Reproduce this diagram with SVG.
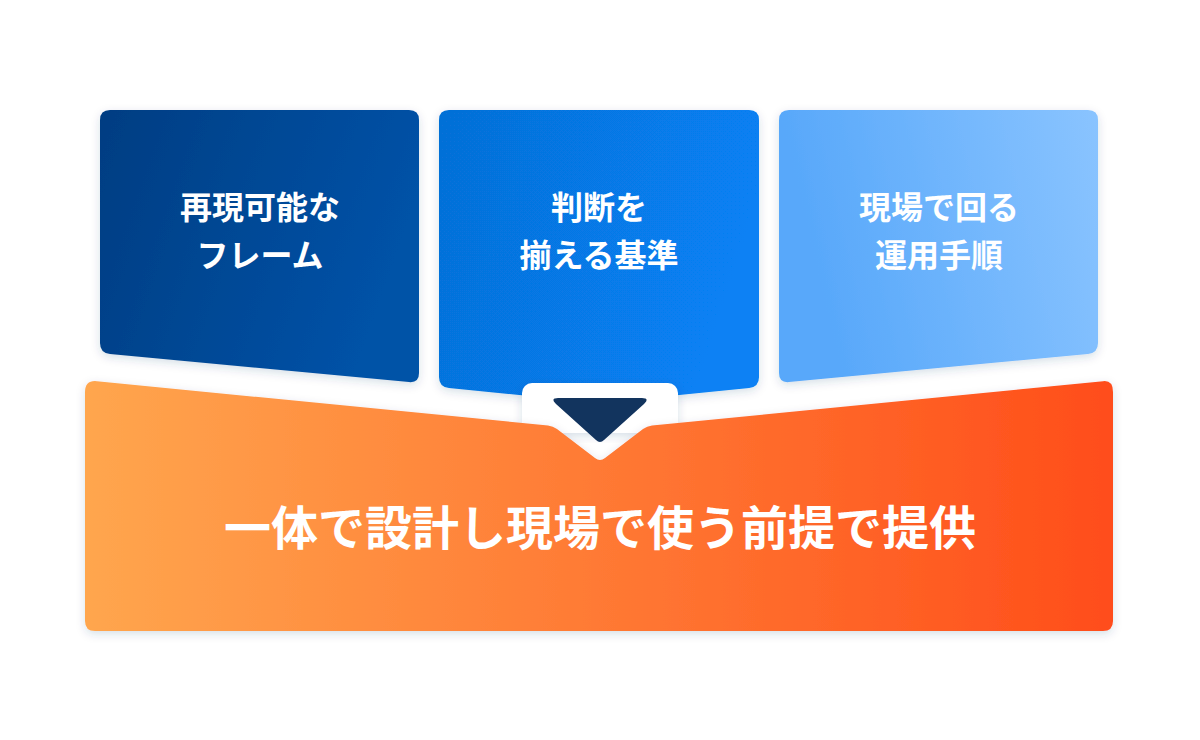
<svg xmlns="http://www.w3.org/2000/svg" width="1200" height="740" viewBox="0 0 1200 740">
  <defs>
    <linearGradient id="g1" x1="0" y1="0" x2="1" y2="0.3">
      <stop offset="0" stop-color="#033D82"/>
      <stop offset="1" stop-color="#0552A7"/>
    </linearGradient>
    <linearGradient id="g2" x1="0" y1="0" x2="1" y2="0.3">
      <stop offset="0" stop-color="#066FD6"/>
      <stop offset="1" stop-color="#0781F4"/>
    </linearGradient>
    <linearGradient id="g3" x1="0" y1="0" x2="1" y2="-0.2">
      <stop offset="0" stop-color="#58A8FA"/>
      <stop offset="1" stop-color="#8CC5FF"/>
    </linearGradient>
    <linearGradient id="g4" x1="0" y1="0" x2="1" y2="0">
      <stop offset="0" stop-color="#FFA64E"/>
      <stop offset="1" stop-color="#FF4D1A"/>
    </linearGradient>
    <filter id="sh" x="-10%" y="-10%" width="120%" height="130%">
      <feDropShadow dx="0" dy="3" stdDeviation="5" flood-color="#1E3A6E" flood-opacity="0.16"/>
    </filter>
  </defs>
  <style>
    .lbl { font-family: "Noto Sans CJK JP", "Noto Sans", sans-serif; font-weight: 700; fill: #FFFFFF; text-anchor: middle; }
    .top { font-size: 32px; }
    .main { font-size: 47px; }
  </style>
  <rect width="1200" height="740" fill="#FFFFFF"/>

  <g id="node-frame">
    <path d="M 100 120 Q 100 110 110 110 L 409 110 Q 419 110 419 120 L 419 373 Q 419 383 409 382.1 L 110 354 Q 100 353 100 343 Z" fill="url(#g1)" filter="url(#sh)"/>
    <text class="lbl top" x="260" y="219">再現可能な</text>
    <text class="lbl top" x="260" y="267">フレーム</text>
  </g>

  <g id="node-criteria">
    <path d="M 439 120 Q 439 110 449 110 L 749 110 Q 759 110 759 120 L 759 377 Q 759 387 749 388 L 599 403 L 449 388 Q 439 387 439 377 Z" fill="url(#g2)" filter="url(#sh)"/>
    <text class="lbl top" x="599" y="219">判断を</text>
    <text class="lbl top" x="599" y="267">揃える基準</text>
  </g>

  <g id="node-procedure">
    <path d="M 779 120 Q 779 110 789 110 L 1088 110 Q 1098 110 1098 120 L 1098 343 Q 1098 353 1088 354 L 789 382.1 Q 779 383 779 373 Z" fill="url(#g3)" filter="url(#sh)"/>
    <text class="lbl top" x="939" y="219">現場で回る</text>
    <text class="lbl top" x="939" y="267">運用手順</text>
  </g>

  <g id="connectors">
    <rect x="522" y="383" width="156" height="50" rx="10" fill="#FFFFFF" filter="url(#sh)"/>
  </g>

  <g id="node-result">
    <path d="M 85 392 Q 85 380 97 381.2 L 548 425.5 Q 553 426 557 429 L 595 458 Q 600 462 605 458 L 643 429 Q 647 426 652 425.5 L 1103 381.2 Q 1113 380 1113 392 L 1113 621 Q 1113 631 1103 631 L 95 631 Q 85 631 85 621 Z" fill="url(#g4)" filter="url(#sh)"/>
    <text class="lbl main" x="600" y="545">一体で設計し現場で使う前提で提供</text>
  </g>

  <g id="arrow">
    <path d="M 558 398 L 642 398 Q 650 398 644 404 L 604 440 Q 600 444 596 440 L 556 404 Q 550 398 558 398 Z" fill="#12345E"/>
  </g>
</svg>
